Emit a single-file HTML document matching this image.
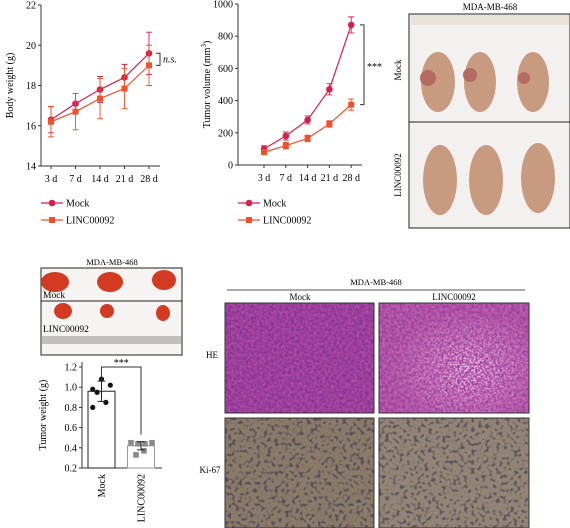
<!DOCTYPE html>
<html><head><meta charset="utf-8"><style>
body{margin:0;background:#fff}
svg{display:block;font-family:"Liberation Serif",serif}
</style></head><body>
<svg id="fig" width="570" height="528" viewBox="0 0 570 528" xmlns="http://www.w3.org/2000/svg">
<defs>
<filter id="he1" x="0" y="0" width="100%" height="100%" color-interpolation-filters="sRGB"><feTurbulence type="fractalNoise" baseFrequency="0.35" numOctaves="2" seed="3"/><feColorMatrix values="0 0 0 0 0.42  0 0 0 0 0.15  0 0 0 0 0.55  0 0 0 -2.2 1.6"/></filter>
<filter id="ki" x="0" y="0" width="100%" height="100%" color-interpolation-filters="sRGB"><feTurbulence type="fractalNoise" baseFrequency="0.28" numOctaves="1" seed="7"/><feColorMatrix values="0 0 0 0 0.3  0 0 0 0 0.27  0 0 0 0 0.35  6 0 0 0 -3.1"/></filter>
<filter id="wh" x="0" y="0" width="100%" height="100%" color-interpolation-filters="sRGB"><feTurbulence type="fractalNoise" baseFrequency="0.5" numOctaves="1" seed="11"/><feColorMatrix values="0 0 0 0 1  0 0 0 0 0.9  0 0 0 0 1  0 0 0 -6 3.3"/></filter>
<radialGradient id="wg" cx="0.6" cy="0.6" r="0.55"><stop offset="0" stop-color="#fff" stop-opacity="1"/><stop offset="1" stop-color="#fff" stop-opacity="0"/></radialGradient>
<mask id="wm"><rect x="379" y="303" width="150" height="110" fill="url(#wg)"/></mask>
</defs>
<g id="c1"></g>
<g id="c2"></g>
<g id="c3"></g>

<g>
<text x="490" y="10" font-size="9" text-anchor="middle">MDA-MB-468</text>
<rect x="409" y="14" width="161" height="214" fill="#f3f1ef" stroke="#222"/>
<rect x="411" y="15" width="158" height="10" fill="#e8e4da"/>
<line x1="409" y1="122" x2="570" y2="122" stroke="#222"/>
<g fill="#c89a80">
<ellipse cx="438" cy="82" rx="17" ry="30"/><ellipse cx="480" cy="82" rx="16" ry="30"/><ellipse cx="533" cy="82" rx="16" ry="30"/>
<ellipse cx="440" cy="180" rx="17" ry="35"/><ellipse cx="486" cy="180" rx="17" ry="35"/><ellipse cx="538" cy="178" rx="17" ry="35"/>
</g>
<g fill="#b56a64"><circle cx="428" cy="78" r="8"/><circle cx="470" cy="75" r="7"/><circle cx="524" cy="78" r="6"/></g>
<text transform="translate(401,70) rotate(-90)" font-size="9" text-anchor="middle">Mock</text>
<text transform="translate(401,175) rotate(-90)" font-size="9" text-anchor="middle">LINC00092</text>
</g>

<g>
<text x="112" y="265" font-size="8.5" text-anchor="middle">MDA-MB-468</text>
<rect x="41" y="268" width="141" height="87" fill="#f6f4f2" stroke="#222"/>
<line x1="41" y1="301" x2="182" y2="301" stroke="#222"/>
<rect x="42" y="336" width="139" height="8" fill="#8a8a8a" opacity="0.5"/>
<g fill="#d23b22"><ellipse cx="55" cy="282" rx="14" ry="10"/><ellipse cx="110" cy="282" rx="13" ry="10"/><ellipse cx="164" cy="280" rx="12" ry="10"/>
<ellipse cx="63" cy="311" rx="9" ry="8"/><ellipse cx="107" cy="311" rx="7" ry="7"/><ellipse cx="163" cy="313" rx="7" ry="8"/></g>
<text x="43" y="298" font-size="9.5">Mock</text>
<text x="43" y="332" font-size="9.5">LINC00092</text>
</g>

<g>
<text x="376" y="285" font-size="8.5" text-anchor="middle">MDA-MB-468</text>
<line x1="227" y1="290" x2="525" y2="290" stroke="#555"/>
<text x="300" y="300" font-size="9" text-anchor="middle">Mock</text>
<text x="454" y="300" font-size="9" text-anchor="middle">LINC00092</text>
<text x="212" y="358" font-size="9" text-anchor="middle">HE</text>
<text x="210" y="473" font-size="9" text-anchor="middle">Ki-67</text>
<rect x="225" y="303" width="149" height="110" fill="#b04aa2"/>
<rect x="225" y="303" width="149" height="110" filter="url(#he1)" opacity="0.6"/>
<rect x="379" y="303" width="150" height="110" fill="#c55fae"/>
<rect x="379" y="303" width="150" height="110" filter="url(#he1)" opacity="0.5"/>
<g mask="url(#wm)"><rect x="379" y="303" width="150" height="110" filter="url(#wh)" opacity="0.7"/></g>
<rect x="225" y="418" width="149" height="110" fill="#8a7a68"/>
<rect x="225" y="418" width="149" height="110" filter="url(#ki)" opacity="0.8"/>
<rect x="379" y="418" width="150" height="110" fill="#928575"/>
<rect x="379" y="418" width="150" height="110" filter="url(#ki)" opacity="0.75"/>
<g fill="none" stroke="#333" stroke-width="1"><rect x="225" y="303" width="149" height="110"/><rect x="379" y="303" width="150" height="110"/><rect x="225" y="418" width="149" height="110"/><rect x="379" y="418" width="150" height="110"/></g>
</g>
</svg>
<script>
const days=["3 d","7 d","14 d","21 d","28 d"];
const bwMock=[16.3,17.1,17.8,18.4,19.6];
const bwMockErr=[0.65,0.5,0.65,0.65,1.05];
const bwLinc=[16.2,16.7,17.35,17.85,19.0];
const bwLincErr=[0.75,0.9,1.0,1.0,1.0];
const bwTicks=[14,16,18,20,22];
const tvMock=[100,180,280,470,870];
const tvMockErr=[20,25,25,35,50];
const tvLinc=[80,120,165,255,375];
const tvLincErr=[15,20,20,20,35];
const tvTicks=[0,200,400,600,800,1000];
const twGroups=["Mock","LINC00092"];
const twMeans=[0.96,0.42];
const twErr=[0.1,0.04];
const twMockPts=[0.98,1.08,1.02,0.95,0.85,0.80];
const twLincPts=[0.45,0.44,0.44,0.45,0.37,0.33];
const twTicks=[0.2,0.4,0.6,0.8,1.0,1.2];

const NS="http://www.w3.org/2000/svg";
function mk(p,t,a,txt){const e=document.createElementNS(NS,t);for(const k in a)e.setAttribute(k,a[k]);if(txt!==undefined)e.textContent=txt;p.appendChild(e);return e;}
const MC="#d81f4a",LC="#f0512b";

function lineChart(g,opt){
  const y=v=>opt.y0+(v-opt.vmin)/(opt.vmax-opt.vmin)*(opt.y1-opt.y0);
  const x=i=>opt.x0+i*opt.dx;
  let ax=mk(g,'path',{d:`M${opt.ax},${opt.y1}V${opt.y0}H${opt.axEnd}`,stroke:'#333',fill:'none','stroke-width':1});
  
  opt.ticks.forEach(t=>{mk(g,'line',{x1:opt.ax-3,x2:opt.ax,y1:y(t),y2:y(t),stroke:'#333'});
    let l=mk(g,'text',{x:opt.ax-5,y:y(t)+3.5,'font-size':10,'text-anchor':'end'},t);
    });
  days.forEach((d,i)=>{mk(g,'line',{x1:x(i),x2:x(i),y1:opt.y0,y2:opt.y0+3,stroke:'#333'});
    let l=mk(g,'text',{x:x(i),y:opt.y0+16,'font-size':10,'text-anchor':'middle'},d);
    });
  let tt=mk(g,'text',{transform:`translate(${opt.ax-28},${(opt.y0+opt.y1)/2}) rotate(-90)`,'font-size':10,'text-anchor':'middle'});
  tt.innerHTML=opt.title;
  [[opt.m,opt.me,MC,'mock'],[opt.l,opt.le,LC,'linc00092']].forEach(([vals,err,c,n])=>{
    let s=mk(g,'g',{});
    mk(s,'polyline',{points:vals.map((v,i)=>x(i)+','+y(v)).join(' '),fill:'none',stroke:c,'stroke-width':1.2});
    vals.forEach((v,i)=>{mk(s,'path',{d:`M${x(i)},${y(v-err[i])}V${y(v+err[i])}M${x(i)-3},${y(v-err[i])}h6M${x(i)-3},${y(v+err[i])}h6`,stroke:c,fill:'none','stroke-width':0.9});
      let p=n=='mock'?mk(s,'circle',{cx:x(i),cy:y(v),r:3.3,fill:c}):mk(s,'rect',{x:x(i)-3,y:y(v)-3,width:6,height:6,fill:c});
      });
  });
  const b=opt.br;
  mk(g,'path',{d:`M${b.x},${y(b.a)}h4V${y(b.b)}h-4`,stroke:'#333',fill:'none'});
  let sl=mk(g,'text',{x:b.x+7,y:(y(b.a)+y(b.b))/2+(b.it?3:5),'font-size':10,'font-style':b.it?'italic':'normal'},b.t);
  
  [['Mock',MC,0],['LINC00092',LC,1]].forEach(([t,c,k])=>{
    let lg=mk(g,'g',{});
    const ly=opt.ly+k*17;
    mk(lg,'line',{x1:opt.ax,x2:opt.ax+22,y1:ly,y2:ly,stroke:c,'stroke-width':1.2});
    k==0?mk(lg,'circle',{cx:opt.ax+11,cy:ly,r:3.3,fill:c}):mk(lg,'rect',{x:opt.ax+8,y:ly-3,width:6,height:6,fill:c});
    mk(lg,'text',{x:opt.ax+25,y:ly+3.5,'font-size':10},t);
  });
}
lineChart(document.getElementById('c1'),{ax:41,axEnd:160,y0:166,y1:5,vmin:14,vmax:22,x0:51,dx:24.5,ticks:bwTicks,
  title:'Body weight (g)',m:bwMock,me:bwMockErr,l:bwLinc,le:bwLincErr,br:{x:156,a:bwMock[4],b:bwLinc[4],t:'n.s.',it:true},ly:203});
lineChart(document.getElementById('c2'),{ax:238,axEnd:362,y0:165,y1:4,vmin:0,vmax:1000,x0:264,dx:21.8,ticks:tvTicks,
  title:'Tumor volume (mm<tspan font-size="7" dy="-4">3</tspan><tspan dy="4">)</tspan>',m:tvMock,me:tvMockErr,l:tvLinc,le:tvLincErr,br:{x:360,a:tvMock[4],b:tvLinc[4],t:'***',it:false},ly:203});

(function(){
  const g=document.getElementById('c3');
  const y=v=>468-(v-0.2)/0.2*20.2;
  const xc=[101.5,141];
  mk(g,'path',{d:'M82,362V468H162',stroke:'#333',fill:'none'});
  twTicks.forEach(t=>{mk(g,'line',{x1:79,x2:82,y1:y(t),y2:y(t),stroke:'#333'});
    let l=mk(g,'text',{x:77,y:y(t)+3.5,'font-size':10,'text-anchor':'end'},t.toFixed(1));
    });
  let tt=mk(g,'text',{transform:'translate(46,415) rotate(-90)','font-size':10,'text-anchor':'middle'},'Tumor weight (g)');
  
  twGroups.forEach((n,i)=>{
    let b=mk(g,'rect',{x:xc[i]-13.5,y:y(twMeans[i]),width:27,height:468-y(twMeans[i]),fill:'#fff',stroke:i?'#999':'#222'});
    
    let l=mk(g,'text',{transform:`translate(${xc[i]+3.5},474) rotate(-90)`,'font-size':10,'text-anchor':'end'},n);
    
  });
  const off=[-8,0,8,-4,4,-8];
  twMockPts.forEach((v,j)=>{let c=mk(g,'circle',{cx:xc[0]+off[j]*1.1,cy:y(v),r:2.6,fill:'#111'});
    });
  twLincPts.forEach((v,j)=>{const ox=[-10,-3,4,11,3,-5][j];let c=mk(g,'rect',{x:xc[1]+ox-2.8,y:y(v)-2.8,width:5.6,height:5.6,fill:'#8a8a8a'});
    });
  twGroups.forEach((n,i)=>{const m=twMeans[i],e=twErr[i];
    mk(g,'path',{d:`M${xc[i]},${y(m-e)}V${y(m+e)}M${xc[i]-4},${y(m-e)}h8M${xc[i]-4},${y(m+e)}h8`,stroke:'#222',fill:'none'});});
  mk(g,'path',{d:`M${xc[0]},${y(1.07)}V${y(1.2)}H${xc[1]}V${y(0.53)}`,stroke:'#333',fill:'none'});
  let s=mk(g,'text',{x:(xc[0]+xc[1])/2,y:y(1.2)-1,'font-size':10,'text-anchor':'middle'},'***');
  
})();
</script>
</body></html>
